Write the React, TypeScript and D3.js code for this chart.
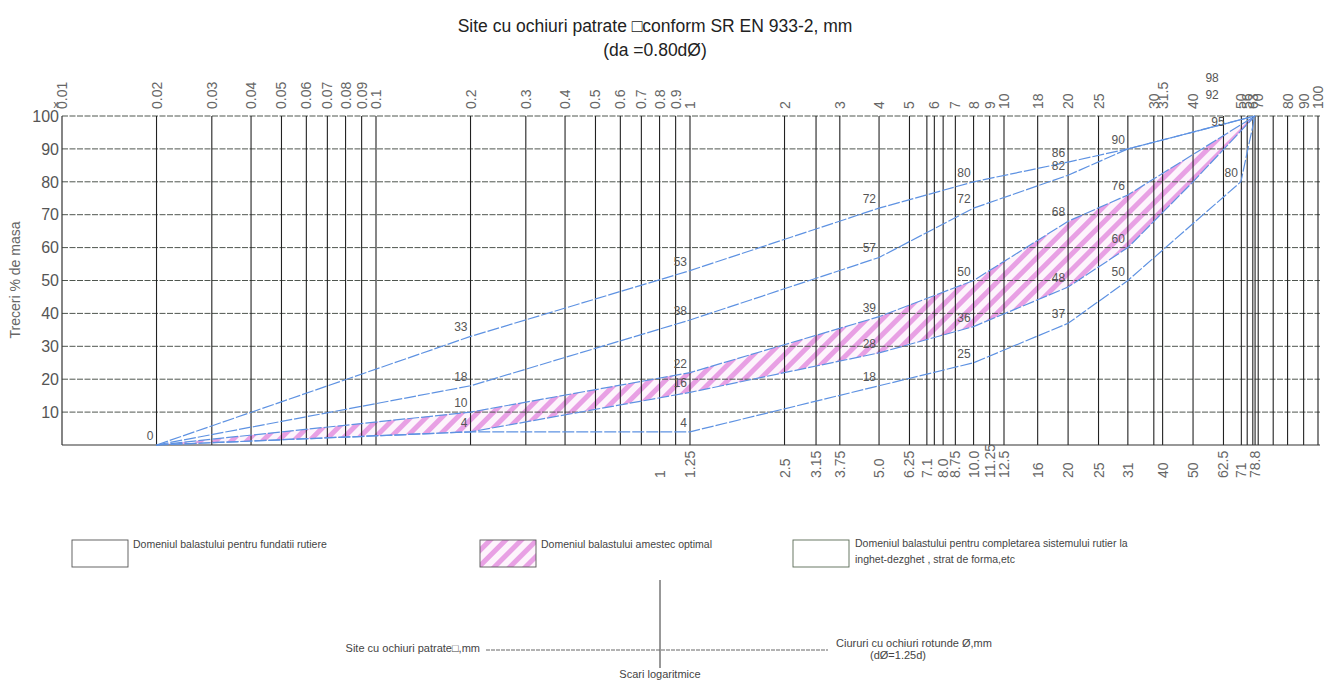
import React from "react";
import * as d3 from "d3";

// square-mesh sieves (top scale), mm
const topTickValues = [
  0.01, 0.02, 0.03, 0.04, 0.05, 0.06, 0.07, 0.08, 0.09, 0.1,
  0.2, 0.3, 0.4, 0.5, 0.6, 0.7, 0.8, 0.9, 1,
  2, 3, 4, 5, 6, 7, 8, 9, 10,
  12.8, 16, 20, 30, 32, 40, 57, 59.5, 62, 64.5, 80, 90, 100,
];
const topTickLabels = [
  "0.01", "0.02", "0.03", "0.04", "0.05", "0.06", "0.07", "0.08", "0.09", "0.1",
  "0.2", "0.3", "0.4", "0.5", "0.6", "0.7", "0.8", "0.9", "1",
  "2", "3", "4", "5", "6", "7", "8", "9", "10",
  "18", "20", "25", "30", "31.5", "40", "50", "56", "63", "70", "80", "90", "100",
];

// round-hole screens (bottom scale), dØ = 1.25 d
const roundSieves = [1, 1.25, 2.5, 3.15, 3.75, 5, 6.25, 7.1, 8, 8.75, 10, 11.25, 12.5, 16, 20, 25, 31, 40, 50, 62.5, 71, 78.8];
const roundSieveLabels = ["1", "1.25", "2.5", "3.15", "3.75", "5.0", "6.25", "7.1", "8.0", "8.75", "10.0", "11.25", "12.5", "16", "20", "25", "31", "40", "50", "62.5", "71", "78.8"];
const extraGridValues = [72];

const percentTicks = [10, 20, 30, 40, 50, 60, 70, 80, 90, 100];

// grading curves, passing % by sieve size (square mesh, mm)
const sieveSizes = [0.02, 0.2, 1, 4, 8, 16, 24.8, 40, 56.8, 63];
const curveA = [0, 33, 53, 72, 80, 86, 90, null, null, 100];
const curveB = [0, 18, 38, 57, 72, 82, 90, null, null, 100];
const curveC = [0, 10, 22, 39, 50, 68, 76, null, null, 100];
const curveD = [0, 4, 16, 28, 36, 48, 60, 80, null, 100];
const curveE = [0, 4, 4, 18, 25, 37, 50, null, 80, 100];

const curves = [
  { name: "A", values: curveA, unlabelled: [] as number[] },
  { name: "B", values: curveB, unlabelled: [] as number[] },
  { name: "C", values: curveC, unlabelled: [] as number[] },
  { name: "D", values: curveD, unlabelled: [40] },
  { name: "E", values: curveE, unlabelled: [] as number[] },
];

const extraNotes = [{ size: 48, pct: 96, text: "95" }];

const W = 1326;
const H = 681;
const blue = "#5e92e2";
const gridColor = "#4f564f";
const textColor = "#555";
const narrow = "'Liberation Sans Narrow', 'Liberation Sans', Arial, sans-serif";
const sans = "'Liberation Sans', Arial, sans-serif";

export default function App() {
  const x = d3.scaleLog().domain([0.01, 100]).range([62, 1318]);
  const y = d3.scaleLinear().domain([0, 100]).range([445, 116]);
  const right = 1320;

  const pts = (vals: (number | null)[]) =>
    sieveSizes
      .map((s, i) => ({ s, v: vals[i] }))
      .filter((d) => d.v != null) as { s: number; v: number }[];

  const line = d3
    .line<{ s: number; v: number }>()
    .x((d) => x(d.s))
    .y((d) => y(d.v));

  // hatched optimal zone between C (upper) and D (lower)
  const zone = [...pts(curveC), ...pts(curveD).reverse()];
  const zonePath = line(zone) + "Z";

  // vertical grid lines
  const gridVals = [
    ...topTickValues.slice(1),
    ...roundSieves.map((r) => r * 0.8),
    ...extraGridValues,
  ];
  const seen = new Set<number>();
  const vLines = gridVals.filter((v) => {
    const k = Math.round(x(v));
    if (seen.has(k)) return false;
    seen.add(k);
    return true;
  });

  // point labels
  const labelled = new Set<string>();
  const labels: { s: number; v: number; key: string }[] = [];
  curves.forEach((c) => {
    pts(c.values).forEach((d) => {
      if (d.v >= 100) return;
      if (c.unlabelled.includes(d.s)) return;
      const k = d.s + "_" + d.v;
      if (labelled.has(k)) return;
      if (d.v === 0 && labels.some((l) => l.v === 0)) return;
      labelled.add(k);
      labels.push({ ...d, key: c.name + k });
    });
  });

  return (
    <svg
      width={W}
      height={H}
      style={{ position: "absolute", left: 0, top: 0, background: "#fff" }}
    >
      <defs>
        <pattern
          id="hatch"
          patternUnits="userSpaceOnUse"
          width={11}
          height={11}
          patternTransform="rotate(45)"
        >
          <rect width={11} height={11} fill="#fdf4fc" />
          <rect width={5} height={11} fill="#e8a0e4" />
        </pattern>
      </defs>

      {/* title */}
      <text x={655} y={32} textAnchor="middle" fontFamily={sans} fontSize={17.5} fill="#222">
        {"Site cu ochiuri patrate \u25A1conform SR EN 933-2, mm"}
      </text>
      <text x={655} y={56} textAnchor="middle" fontFamily={sans} fontSize={17.5} fill="#222">
        {"(da =0.80d\u00D8)"}
      </text>

      {/* hatched zone */}
      <path d={zonePath} fill="url(#hatch)" stroke="none" />

      {/* horizontal grid */}
      {percentTicks.map((p) => (
        <line
          key={"h" + p}
          x1={x(0.01)}
          x2={right}
          y1={y(p)}
          y2={y(p)}
          stroke={gridColor}
          strokeWidth={1}
          strokeDasharray="6 1.5"
        />
      ))}
      {/* vertical grid */}
      {vLines.map((v) => (
        <line key={"v" + v} x1={x(v)} x2={x(v)} y1={y(100)} y2={y(0)} stroke="#222" strokeWidth={1.1} />
      ))}
      {/* frame */}
      <line x1={x(0.01)} x2={x(0.01)} y1={y(100)} y2={y(0)} stroke="#333" strokeWidth={1.2} />
      <line x1={x(0.01)} x2={right} y1={y(0)} y2={y(0)} stroke="#333" strokeWidth={1.2} />

      {/* curves */}
      {curves.map((c) => (
        <path
          key={c.name}
          d={line(pts(c.values)) || ""}
          fill="none"
          stroke={blue}
          strokeWidth={1.2}
          strokeDasharray="12 2"
        />
      ))}

      {/* point labels */}
      {labels.map((l) => (
        <text
          key={l.key}
          x={x(l.s) - 3}
          y={y(l.v) - 5}
          textAnchor="end"
          fontFamily={narrow}
          fontSize={12}
          fill={textColor}
        >
          {l.v}
        </text>
      ))}
      {extraNotes.map((n) => (
        <text key={n.text} x={x(n.size)} y={y(n.pct) - 3} textAnchor="middle" fontFamily={narrow} fontSize={12} fill={textColor}>
          {n.text}
        </text>
      ))}
      <text x={x(46)} y={y(100) - 34} textAnchor="middle" fontFamily={narrow} fontSize={12} fill={textColor}>98</text>
      <text x={x(46)} y={y(100) - 17} textAnchor="middle" fontFamily={narrow} fontSize={12} fill={textColor}>92</text>

      {/* y axis */}
      {percentTicks.map((p) => (
        <text
          key={"yl" + p}
          x={59}
          y={y(p)}
          dy="0.36em"
          textAnchor="end"
          fontFamily={narrow}
          fontSize={16}
          fill={textColor}
        >
          {p}
        </text>
      ))}
      <text x={56} y={108} textAnchor="middle" fontFamily={sans} fontSize={10} fill={textColor}>x</text>
      <text
        transform="translate(20,280) rotate(-90)"
        textAnchor="middle"
        fontFamily={sans}
        fontSize={14}
        fill="#666"
      >
        Treceri % de masa
      </text>

      {/* top labels */}
      {topTickValues.map((v, i) => (
        <text
          key={"t" + v}
          transform={`translate(${x(v) + 5},${y(100) - 7}) rotate(-90)`}
          fontFamily={sans}
          fontSize={14}
          fill="#666"
        >
          {topTickLabels[i]}
        </text>
      ))}

      {/* bottom labels */}
      {roundSieves.map((r, i) => (
        <text
          key={"b" + r}
          transform={`translate(${x(r * 0.8) + 5},${y(0) + 33}) rotate(-90)`}
          fontFamily={sans}
          fontSize={14}
          fill="#666"
        >
          {roundSieveLabels[i]}
        </text>
      ))}

      {/* legend */}
      <g fontFamily={narrow} fontSize={10.5} fill="#444">
        <rect x={72} y={540} width={56} height={27} fill="#fff" stroke="#555" strokeWidth={0.9} />
        <text x={133} y={548}>Domeniul balastului pentru  fundatii rutiere</text>
        <rect x={480} y={540} width={56} height={27} fill="url(#hatch)" stroke="#555" strokeWidth={0.9} />
        <text x={541} y={548}>Domeniul balastului amestec optimal</text>
        <rect x={793} y={540} width={56} height={27} fill="#fff" stroke="#5a6a55" strokeWidth={0.9} />
        <text x={855} y={547}>Domeniul balastului pentru completarea sistemului rutier la</text>
        <text x={855} y={563}>inghet-dezghet , strat de forma,etc</text>
      </g>

      {/* scale diagram */}
      <line x1={660} x2={660} y1={580} y2={668} stroke="#333" strokeWidth={1} />
      <line x1={486} x2={828} y1={650} y2={650} stroke="#666" strokeWidth={1} strokeDasharray="4 1" />
      <g fontFamily={narrow} fontSize={11} fill="#444">
        <text x={480} y={652} textAnchor="end">{"Site cu ochiuri patrate\u25A1,mm"}</text>
        <text x={836} y={647}>{"Ciururi cu ochiuri rotunde \u00D8,mm"}</text>
        <text x={870} y={659}>{"(d\u00D8=1.25d)"}</text>
        <text x={660} y={678} textAnchor="middle">Scari logaritmice</text>
      </g>
    </svg>
  );
}
